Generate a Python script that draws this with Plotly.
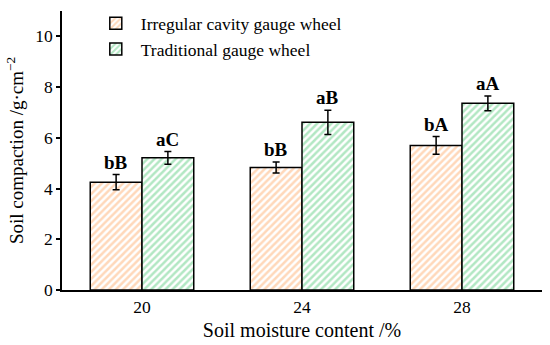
import plotly.graph_objects as go

# Data
moisture = ["20", "24", "28"]
irregular = [4.25, 4.83, 5.70]
irregular_err = [0.30, 0.22, 0.35]
traditional = [5.21, 6.61, 7.36]
traditional_err = [0.25, 0.48, 0.29]
irregular_labels = ["bB", "bB", "bA"]
traditional_labels = ["aC", "aB", "aA"]

FONT = "Liberation Serif"
x = list(range(len(moisture)))

fig = go.Figure()
fig.add_trace(go.Bar(
    x=x, y=irregular, name="Irregular cavity gauge wheel",
    error_y=dict(type="data", array=irregular_err, color="black", thickness=1.5, width=3.5),
    marker=dict(color="white", line=dict(color="black", width=1.5),
                pattern=dict(shape="/", fgcolor="#FFB276", bgcolor="white", size=5, solidity=0.5)),
))
fig.add_trace(go.Bar(
    x=x, y=traditional, name="Traditional gauge wheel",
    error_y=dict(type="data", array=traditional_err, color="black", thickness=1.5, width=3.5),
    marker=dict(color="white", line=dict(color="black", width=1.5),
                pattern=dict(shape="/", fgcolor="#66D088", bgcolor="white", size=5, solidity=0.5)),
))

# significance letters above error bars
half = (1 - 0.353) / 4
for i in x:
    fig.add_annotation(x=i - half, y=irregular[i] + irregular_err[i], text=irregular_labels[i],
                       showarrow=False, yanchor="bottom", yshift=0,
                       font=dict(family=FONT, size=19, color="black", weight="bold"))
    fig.add_annotation(x=i + half, y=traditional[i] + traditional_err[i], text=traditional_labels[i],
                       showarrow=False, yanchor="bottom", yshift=0,
                       font=dict(family=FONT, size=19, color="black", weight="bold"))

fig.update_layout(
    width=550, height=345,
    margin=dict(l=62, r=8, t=5, b=55),
    plot_bgcolor="white", paper_bgcolor="white",
    barmode="group", bargap=0.353, bargroupgap=0,
    font=dict(family=FONT, size=17, color="black"),
    showlegend=True,
    legend=dict(x=0.06, y=1.02, xanchor="left", yanchor="top",
                bgcolor="rgba(0,0,0,0)", font=dict(family=FONT, size=17.5),
                tracegroupgap=0, itemwidth=40),
    xaxis=dict(
        range=[-0.5, 2.5], tickvals=x, ticktext=moisture,
        showline=True, linecolor="black", linewidth=1.5,
        ticks="", showgrid=False, zeroline=False,
        tickfont=dict(family=FONT, size=17.5),
        title=dict(text="Soil moisture content /%", font=dict(family=FONT, size=20), standoff=7),
    ),
    yaxis=dict(
        range=[0, 11], tickvals=[0, 2, 4, 6, 8, 10],
        showline=True, linecolor="black", linewidth=1.5,
        ticks="outside", ticklen=4, tickwidth=1.5, tickcolor="black",
        showgrid=False, zeroline=False,
        tickfont=dict(family=FONT, size=17.5),
        title=dict(text="Soil compaction /g·cm<sup>−2</sup>", font=dict(family=FONT, size=19), standoff=7),
    ),
)

fig.write_html("out.html", config={"displayModeBar": False},
               post_script="document.body.style.margin='0px';")
